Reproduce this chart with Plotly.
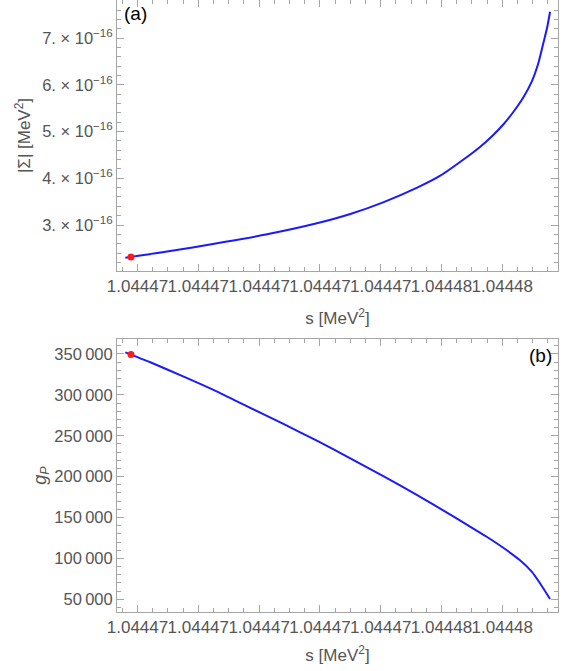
import plotly.graph_objects as go

# ---------------- data ----------------
s_sigma = [1.0444698, 1.044470485, 1.04447131, 1.04447213, 1.04447295, 1.0444735,
           1.04447405, 1.0444746, 1.04447498, 1.044475419, 1.044475633, 1.044475826,
           1.044476016, 1.044476181, 1.044476345, 1.044476484, 1.044476592,
           1.044476674, 1.04447674, 1.044476785]
sigma_abs = [2.30e-16, 2.43e-16, 2.61e-16, 2.80e-16, 3.036e-16, 3.235e-16,
             3.49e-16, 3.80e-16, 4.056e-16, 4.456e-16, 4.67e-16, 4.895e-16,
             5.152e-16, 5.42e-16, 5.73e-16, 6.069e-16, 6.463e-16,
             6.891e-16, 7.246e-16, 7.567e-16]

s_g = [1.0444698, 1.044470211, 1.04447076, 1.04447131, 1.044471856, 1.0444724,
       1.04447295, 1.0444735, 1.04447405, 1.0444746, 1.044475145, 1.044475469,
       1.044475743, 1.044476016, 1.044476291, 1.044476484, 1.04447662, 1.044476785]
g_P = [352000, 339800, 322300, 304000, 284000, 264400,
       244000, 222400, 200400, 177500, 153500, 139000,
       126500, 113000, 97800, 83900, 69700, 50500]

s_point = [1.044469893]
sigma_point = [2.314e-16]
g_point = [349200]

x_tick_vals = [1.04447, 1.044471, 1.044472, 1.044473, 1.044474, 1.044475, 1.044476]
x_tick_labels = ["1.04447", "1.04447", "1.04447", "1.04447", "1.04447", "1.04448", "1.04448"]

sig_tick_vals = [3e-16, 4e-16, 5e-16, 6e-16, 7e-16]
sig_tick_labels = ["3. \u00d7 10<sup>\u221216</sup>", "4. \u00d7 10<sup>\u221216</sup>",
                   "5. \u00d7 10<sup>\u221216</sup>", "6. \u00d7 10<sup>\u221216</sup>",
                   "7. \u00d7 10<sup>\u221216</sup>"]

g_tick_vals = [50000, 100000, 150000, 200000, 250000, 300000, 350000]
g_tick_labels = ["50\u2009000", "100\u2009000", "150\u2009000", "200\u2009000",
                 "250\u2009000", "300\u2009000", "350\u2009000"]

# ---------------- style ----------------
FONT = "Liberation Sans, Arial, sans-serif"
TXT = "#555555"
FRAME = "#a6a6a6"
BLUE = "#1a1aff"

fig = go.Figure()
fig.add_trace(go.Scatter(x=s_sigma, y=sigma_abs, mode="lines",
                         line=dict(color=BLUE, width=2, shape="spline", smoothing=0.8),
                         xaxis="x", yaxis="y", showlegend=False))
fig.add_trace(go.Scatter(x=s_point, y=sigma_point, mode="markers",
                         marker=dict(color="#ff1a1a", size=7), xaxis="x", yaxis="y",
                         showlegend=False))
fig.add_trace(go.Scatter(x=s_g, y=g_P, mode="lines",
                         line=dict(color=BLUE, width=2, shape="spline", smoothing=0.6),
                         xaxis="x2", yaxis="y2", showlegend=False))
fig.add_trace(go.Scatter(x=s_point, y=g_point, mode="markers",
                         marker=dict(color="#ff1a1a", size=7), xaxis="x2", yaxis="y2",
                         showlegend=False))

xrange = [1.044469663, 1.044476916]


def x_axis(standoff):
    return dict(range=xrange, tickmode="array", tickvals=x_tick_vals, ticktext=x_tick_labels,
                tickangle=0, ticks="inside", ticklen=7, tickcolor=FRAME, tickwidth=1,
                showline=True, linecolor=FRAME, linewidth=1, mirror="ticks",
                showgrid=False, zeroline=False,
                minor=dict(ticks="inside", ticklen=4, tickcolor=FRAME, tickmode="linear",
                           tick0=1.04447, dtick=0.25e-6, showgrid=False),
                tickfont=dict(family=FONT, size=17, color=TXT),
                title=dict(text="s [MeV<sup>2</sup>]", font=dict(family=FONT, size=17, color=TXT),
                           standoff=standoff))


fig.update_layout(
    width=567, height=671,
    margin=dict(l=117, r=9, t=0, b=59),
    paper_bgcolor="white", plot_bgcolor="white",
    xaxis=dict(domain=[0, 1], anchor="y", **x_axis(16)),
    xaxis2=dict(domain=[0, 1], anchor="y2", **x_axis(12)),
    yaxis=dict(domain=[0.5572, 1], anchor="x", range=[2.015e-16, 7.818e-16],
               tickmode="array", tickvals=sig_tick_vals, ticktext=sig_tick_labels,
               ticks="inside", ticklen=7, tickcolor=FRAME,
               showline=True, linecolor=FRAME, linewidth=1, mirror="ticks",
               showgrid=False, zeroline=False,
               minor=dict(ticks="inside", ticklen=4, tickcolor=FRAME, tickmode="linear",
                          tick0=0, dtick=0.2e-16, showgrid=False),
               tickfont=dict(family=FONT, size=16.5, color=TXT),
               title=dict(text="|\u03a3| [MeV<sup>2</sup>]",
                          font=dict(family=FONT, size=17, color=TXT), standoff=7)),
    yaxis2=dict(domain=[0, 0.4461], anchor="x2", range=[34500, 368300],
                tickmode="array", tickvals=g_tick_vals, ticktext=g_tick_labels,
                ticks="inside", ticklen=7, tickcolor=FRAME,
                showline=True, linecolor=FRAME, linewidth=1, mirror="ticks",
                showgrid=False, zeroline=False,
                minor=dict(ticks="inside", ticklen=4, tickcolor=FRAME, tickmode="linear",
                           tick0=0, dtick=10000, showgrid=False),
                tickfont=dict(family=FONT, size=16.5, color=TXT),
                title=dict(text="<i>g</i><sub><i>P</i></sub>",
                           font=dict(family=FONT, size=18, color=TXT), standoff=3)),
    annotations=[
        dict(text="(a)", xref="paper", yref="paper", x=0.012, y=0.998,
             xanchor="left", yanchor="top", showarrow=False,
             font=dict(family=FONT, size=19, color="black")),
        dict(text="(b)", xref="paper", yref="paper", x=0.99, y=0.4461 - 0.006,
             xanchor="right", yanchor="top", showarrow=False,
             font=dict(family=FONT, size=19, color="black")),
    ],
)

fig.write_html("out.html", config={"displayModeBar": False},
               post_script="document.body.style.margin='0px';document.body.style.overflow='hidden';")
